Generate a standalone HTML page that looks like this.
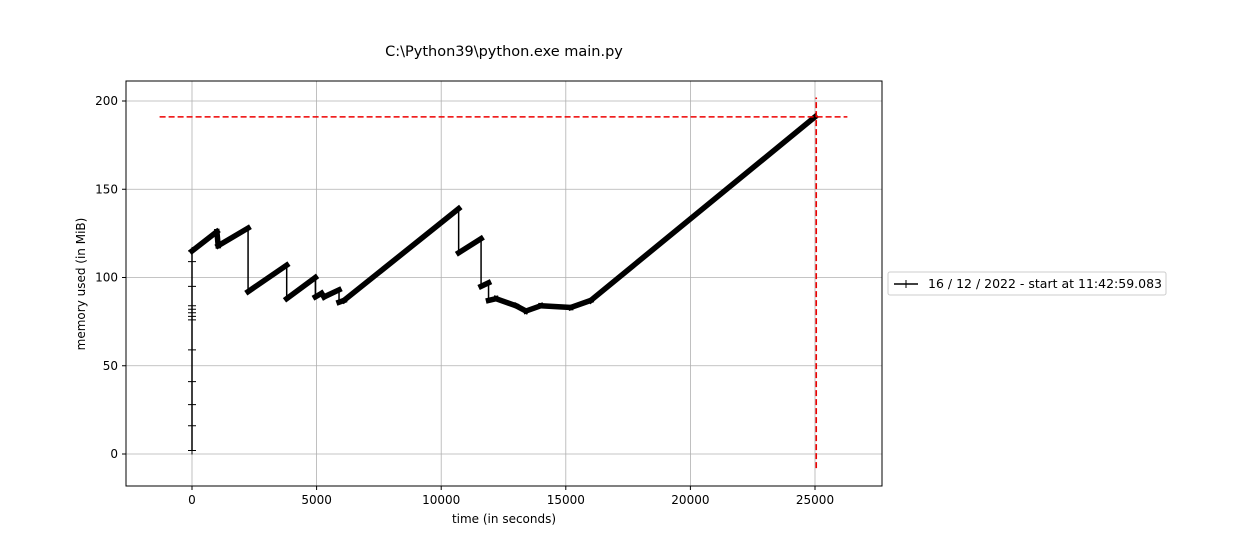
<!DOCTYPE html>
<html><head><meta charset="utf-8"><style>
body{margin:0;background:#fff;font-family:"Liberation Sans","DejaVu Sans",sans-serif;}
svg text{font-family:"DejaVu Sans","Liberation Sans",sans-serif;}
</style></head><body>
<svg id="chart" width="1260" height="540" xmlns="http://www.w3.org/2000/svg">
<rect width="1260" height="540" fill="#fff"/>
<text x="504" y="56" text-anchor="middle" font-size="14.5">C:\Python39\python.exe main.py</text>
<g id="grid"></g>
<g id="series"></g>
<rect x="126" y="81" width="756" height="405" fill="none" stroke="#000" stroke-width="1"/>
<g id="ticks"></g>
<text x="504" y="523" text-anchor="middle" font-size="12">time (in seconds)</text>
<text transform="translate(85,284) rotate(-90)" text-anchor="middle" font-size="12">memory used (in MiB)</text>
<g>
<rect x="888" y="272" width="278" height="23" fill="#fff" stroke="#ccc" rx="2"/>
<line x1="894" y1="284" x2="918" y2="284" stroke="#000" stroke-width="1.5"/>
<line x1="906" y1="280" x2="906" y2="288" stroke="#000"/><line x1="902" y1="284" x2="910" y2="284" stroke="#000"/>
<text x="928" y="288" font-size="12.5">16 / 12 / 2022 - start at 11:42:59.083</text>
</g>
</svg>
<script>
const xTicks=[0,5000,10000,15000,20000,25000];
const yTicks=[0,50,100,150,200];
const rampMem=[2,16,28,41,59,76,78,80,82,84,95,109,115];
const times=[0,1000,1050,2250,2250,3800,3800,4950,4950,5200,5300,5900,5900,6100,10700,10700,11600,11600,11900,11900,12200,13000,13400,14000,15200,16000,25000];
const mems=[115,126,118,128,92,107,88,100,89,91,89,93,86,87,139,114,122,95,97,87,88,84,81,84,83,87,191];
const peakMem=191, peakTime=25050;
const X=t=>192+t*(815-192)/25000;
const Y=m=>454-m*(454-101)/200;
const NS="http://www.w3.org/2000/svg";
function mk(p,tag,at){const e=document.createElementNS(NS,tag);for(const k in at)e.setAttribute(k,at[k]);p.appendChild(e);return e;}
const grid=document.getElementById('grid'),ticks=document.getElementById('ticks'),ser=document.getElementById('series');
xTicks.forEach(t=>{
 const g=mk(grid,'line',{x1:X(t),x2:X(t),y1:81,y2:486,stroke:'#b0b0b0','stroke-width':0.8});
 
 
 mk(ticks,'line',{x1:X(t),x2:X(t),y1:486,y2:490,stroke:'#000'});
 const l=mk(ticks,'text',{x:X(t),y:504,'text-anchor':'middle','font-size':12});l.textContent=t;
 
 
});
yTicks.forEach(m=>{
 const g=mk(grid,'line',{x1:126,x2:882,y1:Y(m),y2:Y(m),stroke:'#b0b0b0','stroke-width':0.8});
 
 
 mk(ticks,'line',{x1:122,x2:126,y1:Y(m),y2:Y(m),stroke:'#000'});
 const l=mk(ticks,'text',{x:118,y:Y(m)+4,'text-anchor':'end','font-size':12});l.textContent=m;
 
 
});
const rp=rampMem.map(m=>X(0)+','+Y(m)).join(' ');
const r=mk(ser,'polyline',{points:rp,fill:'none',stroke:'#000','stroke-width':1.5});


rampMem.forEach(m=>{
 const c=mk(ser,'path',{d:`M${X(0)-4},${Y(m)}h8M${X(0)},${Y(m)-4}v8`,stroke:'#000','stroke-width':1});
 
 
});
const pts=times.map((t,i)=>X(t)+','+Y(mems[i])).join(' ');
const thin=mk(ser,'polyline',{points:pts,fill:'none',stroke:'#000','stroke-width':1.5});


for(let i=0;i<times.length-1;i++){
 if(times[i+1]===times[i])continue;
 const s=mk(ser,'line',{x1:X(times[i]),y1:Y(mems[i]),x2:X(times[i+1]),y2:Y(mems[i+1]),stroke:'#000','stroke-width':5.5,'stroke-linecap':'square'});
 
 
}
const h=mk(ser,'line',{x1:X(-1300),x2:X(26300),y1:Y(peakMem),y2:Y(peakMem),stroke:'#e00','stroke-width':1.6,'stroke-dasharray':'6,3'});


const v=mk(ser,'line',{x1:X(peakTime),x2:X(peakTime),y1:Y(-8),y2:Y(202),stroke:'#e00','stroke-width':1.6,'stroke-dasharray':'6,3'});


</script>
</body></html>
